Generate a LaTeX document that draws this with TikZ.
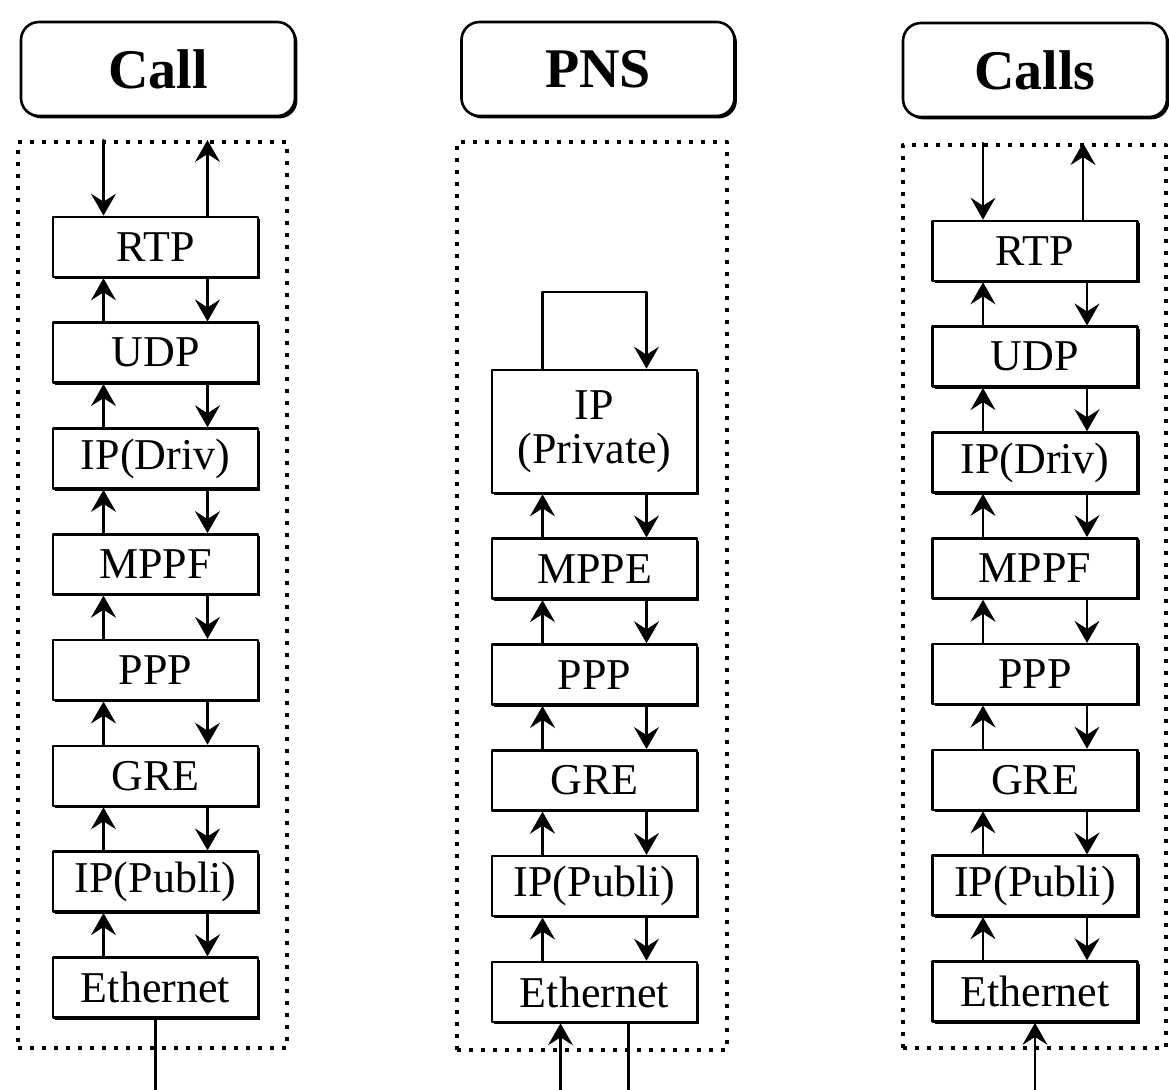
\documentclass[tikz,border=0pt]{standalone}
\usepackage{fontspec}
\setmainfont{Liberation Serif}
\usetikzlibrary{arrows.meta}
\usetikzlibrary{positioning}
\usetikzlibrary{shadows}

\tikzset{
  linie/.style={line width=1.1pt},
  fluss/.style={linie, -{Stealth[length=11pt, width=12.5pt, inset=4pt]}},
  schicht/.style={draw, fill=white, line width=1.3pt, minimum width=102.5pt, minimum height=30pt, inner sep=0pt,
    font=\fontsize{22}{24}\selectfont, drop shadow={shadow xshift=1pt, shadow yshift=-1pt, fill=black, opacity=1}},
  titel/.style={draw, fill=white, rounded corners=9pt, line width=1.3pt, minimum height=47pt, inner sep=0pt,
    font=\fontsize{28}{30}\selectfont\bfseries, drop shadow={shadow xshift=1.2pt, shadow yshift=-1.2pt, fill=black, opacity=1}},
  rahmen/.style={draw, line width=2pt, line cap=butt, dash pattern=on 2pt off 4pt, inner sep=0pt},
}

\begin{document}
\begin{tikzpicture}[line cap=round, line join=round, x=0.5pt, y=0.5pt, node distance=21.6pt]
\useasboundingbox (0,0) rectangle (1169,-1090);
\coordinate (unten) at (0,-1090);
% Titel
\node[titel, minimum width=137pt] (call) at (158,-69) {Call};
\node[titel, minimum width=136.5pt] (pns) at (598,-69) {PNS};
\node[titel, minimum width=132pt] (calls) at (1035,-70) {Calls};
% Rahmen
\node[rahmen, minimum width=134.5pt, minimum height=453pt] (rA) at (152.5,-595) {};
\node[rahmen, minimum width=135pt, minimum height=454pt] (rB) at (592,-596) {};
\node[rahmen, minimum width=131.5pt, minimum height=451.5pt] (rC) at (1034.5,-596.5) {};
% Spalte 1
\node[schicht] (a1) at (155.5,-247) {RTP};
\node[schicht, below=of a1] (a2) {UDP};
\node[schicht, below=of a2] (a3) {IP(Driv)};
\node[schicht, below=of a3] (a4) {MPPF};
\node[schicht, below=of a4] (a5) {PPP};
\node[schicht, below=of a5] (a6) {GRE};
\node[schicht, below=of a6] (a7) {IP(Publi)};
\node[schicht, below=of a7] (a8) {Ethernet};
% Spalte 2
\node[schicht, minimum height=61.5pt, align=center] (b1) at (594.5,-431.5) {IP\\[-2pt](Private)};
\node[schicht, below=of b1] (b2) {MPPE};
\node[schicht, below=of b2] (b3) {PPP};
\node[schicht, below=of b3] (b4) {GRE};
\node[schicht, below=of b4] (b5) {IP(Publi)};
\node[schicht, below=of b5] (b6) {Ethernet};
% Spalte 3
\node[schicht] (c1) at (1035,-251) {RTP};
\node[schicht, below=of c1] (c2) {UDP};
\node[schicht, below=of c2] (c3) {IP(Driv)};
\node[schicht, below=of c3] (c4) {MPPF};
\node[schicht, below=of c4] (c5) {PPP};
\node[schicht, below=of c5] (c6) {GRE};
\node[schicht, below=of c6] (c7) {IP(Publi)};
\node[schicht, below=of c7] (c8) {Ethernet};
% Pfeile zwischen den Schichten
\foreach \c/\n in {a/7,b/5,c/7}
  \foreach \i [count=\j from 2] in {1,...,\n} {
    \draw[fluss] ([xshift=-26pt]\c\j.north) -- ([xshift=-26pt]\c\i.south);
    \draw[fluss] ([xshift=26pt]\c\i.south) -- ([xshift=26pt]\c\j.north);
  }
% oben
\draw[fluss] ([xshift=-26pt]a1.north |- rA.north) -- ([xshift=-26pt]a1.north);
\draw[fluss] ([xshift=26pt]a1.north) -- ([xshift=26pt]a1.north |- rA.north);
\draw[fluss] ([xshift=-26pt]c1.north |- rC.north) -- ([xshift=-26pt]c1.north);
\draw[fluss] ([xshift=24pt]c1.north) -- ([xshift=24pt]c1.north |- rC.north);
\draw[fluss] ([xshift=-26pt]b1.north) -- ++(0,77) -| ([xshift=26pt]b1.north);
% unten
\draw[linie] (a8.south) -- (a8.south |- unten);
\draw[fluss] ([xshift=-17pt]b6.south |- unten) -- ([xshift=-17pt]b6.south);
\draw[linie] ([xshift=17pt]b6.south) -- ([xshift=17pt]b6.south |- unten);
\draw[fluss] (c8.south |- unten) -- (c8.south);
\end{tikzpicture}
\end{document}
